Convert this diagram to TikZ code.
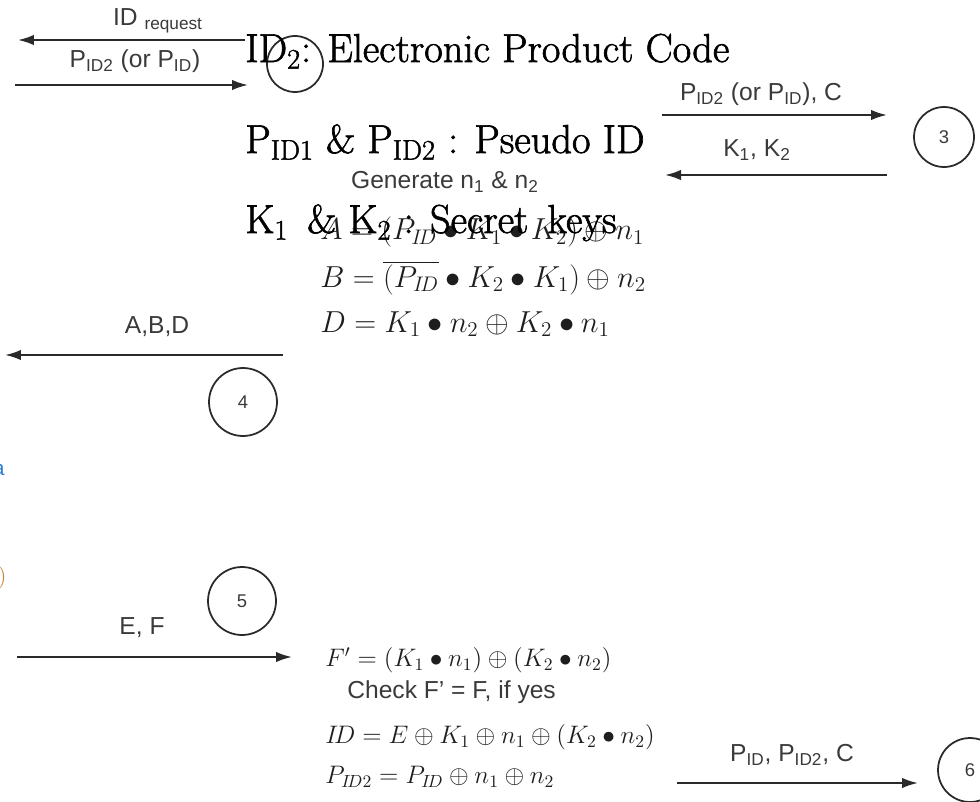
\documentclass[tikz,border=0pt]{standalone}
\usepackage{fontspec}
\setsansfont{Liberation Sans}
\newfontfamily\legendfont[FakeBold=1.6]{Latin Modern Roman}
\usetikzlibrary{arrows.meta,positioning}
\definecolor{FlowInk}{HTML}{1E1E1E}
\definecolor{FlowLabel}{HTML}{3A3A3A}
\definecolor{FlowLine}{HTML}{2A2A2A}
\definecolor{FlowBlue}{HTML}{2F7FD0}
\definecolor{FlowOrange}{HTML}{C8843A}
\tikzset{
  tag/.style={font=\sffamily\fontsize{14}{16}\selectfont, text=FlowLabel, inner sep=0pt},
  stage/.style={circle, draw=FlowLine, line width=1pt, inner sep=0pt, font=\sffamily\fontsize{10.5}{12}\selectfont, text=FlowLabel},
  msg/.style={-{Latex[length=3.2mm,width=2.1mm]}, draw=FlowLine, line width=1.2pt},
  legend/.style={font=\legendfont\fontsize{23}{27}\selectfont, text=black, anchor=base west, inner sep=0pt},
  formula/.style={font=\fontsize{14.5}{17}\selectfont, text=FlowInk, anchor=west, inner sep=0pt},
}

\begin{document}
\begin{tikzpicture}[x=0.02cm,y=-0.02cm]
  \useasboundingbox (0,0) rectangle (980,801);
  % Stage circles
  \node[stage, minimum size=1.12cm] (s2) at (295,64) {};
  \node[stage, minimum size=1.2cm] (s3) at (944,137) {3};
  \node[stage, minimum size=1.36cm] (s4) at (243,402) {4};
  \node[stage, minimum size=1.36cm] (s5) at (242,601) {5};
  \node[stage, minimum size=1.28cm] (s6) at (970,770) {6};
  % Request and pseudo ID
  \coordinate (reqR) at (245,40);
  \coordinate (reqL) at (18,40);
  \draw[msg] (reqR) -- (reqL);
  \node[tag] (req) at (158,21) {ID \textsubscript{request}};
  \coordinate (pidL) at (15,85);
  \coordinate (pidR) at (248,85);
  \draw[msg] (pidL) -- (pidR);
  \node[tag] (pid) at (135,61) {P\textsubscript{ID2} (or P\textsubscript{ID})};
  % Towards stage 3 and back
  \coordinate (fwdL) at (662,115);
  \coordinate (fwdR) at (887,115);
  \draw[msg] (fwdL) -- (fwdR);
  \node[tag] (fwd) at (761,94) {P\textsubscript{ID2} (or P\textsubscript{ID}), C};
  \coordinate (keyR) at (887,175);
  \coordinate (keyL) at (665,175);
  \draw[msg] (keyR) -- (keyL);
  \node[tag] (key) at (757,150) {K\textsubscript{1}, K\textsubscript{2}};
  % Generated values
  \node[tag] (gen) at (445,182) {Generate n\textsubscript{1} \& n\textsubscript{2}};
  \node[formula, font=\fontsize{17}{20}\selectfont] (fa) at (320,232) {$A = (P_{I\!D} \bullet K_1 \bullet K_2) \oplus n_1$};
  \node[formula, font=\fontsize{17}{20}\selectfont] (fb) at (320,278) {$B = \overline{(P_{I\!D}} \bullet K_2 \bullet K_1) \oplus n_2$};
  \node[formula, font=\fontsize{17}{20}\selectfont] (fd) at (320,324) {$D = K_1 \bullet n_2 \oplus K_2 \bullet n_1$};
  \coordinate (abdR) at (283,355);
  \coordinate (abdL) at (5,355);
  \draw[msg] (abdR) -- (abdL);
  \node[tag] (abd) at (157,327) {A,B,D};
  % Cut-off fragments at the left edge
  \node[font=\sffamily\fontsize{12}{14}\selectfont, text=FlowBlue, anchor=east, inner sep=0pt] (cutA) at (5,470) {a};
  \node[font=\fontsize{13}{15}\selectfont, text=FlowOrange, anchor=east, inner sep=0pt] (cutB) at (7,578) {)};
  % E, F and the check
  \coordinate (efL) at (17,657);
  \coordinate (efR) at (292,657);
  \draw[msg] (efL) -- (efR);
  \node[tag] (ef) at (142,628) {E, F};
  \node[formula] (ff) at (325,660) {$F' = (K_1 \bullet n_1) \oplus (K_2 \bullet n_2)$};
  \node[tag, anchor=west] (chk) at (347,692) {Check F’ = F, if yes};
  \node[formula] (fid) at (325,737) {$I\!D = E \oplus K_1 \oplus n_1 \oplus (K_2 \bullet n_2)$};
  \node[formula] (fp) at (325,777) {$P_{I\!D2} = P_{I\!D} \oplus n_1 \oplus n_2$};
  \coordinate (outL) at (677,783);
  \coordinate (outR) at (918,783);
  \draw[msg] (outL) -- (outR);
  \node[tag] (out) at (792,755) {P\textsubscript{ID}, P\textsubscript{ID2}, C};
  % Overlaid legend
  \node[legend] (lid) at (245,62) {ID\textsubscript{2}: Electronic Product Code};
  \node[legend] (lp) at (245,153) {P\textsubscript{ID1} \& P\textsubscript{ID2} : Pseudo ID};
  \node[legend] (lk) at (245,233) {K\textsubscript{1} \,\& K\textsubscript{2} : Secret\, keys};
\end{tikzpicture}
\end{document}
